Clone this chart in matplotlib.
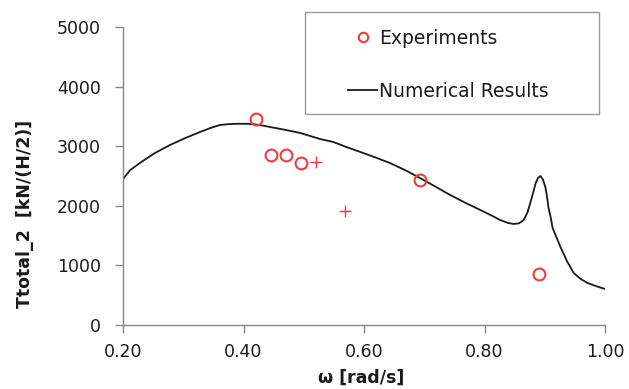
import matplotlib
matplotlib.use("Agg")
import matplotlib.pyplot as plt
from matplotlib.patches import Rectangle

plt.rcParams['font.family'] = ['DejaVu Sans']

# Numerical results curve
num_w = [0.200, 0.212, 0.228, 0.252, 0.278, 0.303, 0.328, 0.345, 0.361, 0.375,
         0.389, 0.403, 0.416, 0.430, 0.444, 0.469, 0.494, 0.527,
         0.549, 0.571, 0.594, 0.618, 0.643, 0.668, 0.693, 0.718, 0.743, 0.768,
         0.793, 0.810, 0.826, 0.838, 0.848, 0.857, 0.865, 0.871, 0.876,
         0.881, 0.885, 0.889, 0.893, 0.897, 0.901, 0.904, 0.906, 0.910, 0.913,
         0.920, 0.926, 0.937, 0.948, 0.960, 0.971, 0.986, 1.000]
num_T = [2450, 2600, 2718, 2880, 3020, 3135, 3239, 3305, 3356, 3370,
         3376, 3376, 3370, 3350, 3322, 3275, 3222, 3121,
         3071, 2985, 2903, 2815, 2718, 2600, 2466, 2325, 2181, 2052,
         1930, 1846, 1762, 1715, 1695, 1705, 1762, 1880, 2047,
         2230, 2383, 2470, 2500, 2440, 2316, 2140, 1980, 1800, 1628,
         1460, 1309, 1070, 873, 770, 705, 650, 604]

# Experiments (circles)
exp_w = [0.421, 0.446, 0.470, 0.495, 0.693, 0.891]
exp_T = [3456, 2852, 2860, 2718, 2433, 856]

# Experiments (plus markers)
plus_w = [0.520, 0.569]
plus_T = [2735, 1913]

xticks = [0.2, 0.4, 0.6, 0.8, 1.0]
xticklabels = ["0.20", "0.40", "0.60", "0.80", "1.00"]
yticks = [0, 1000, 2000, 3000, 4000, 5000]

fig = plt.figure(figsize=(6.29, 3.89), dpi=100)
ax = fig.add_axes([123/629, 1-325/389, (605-123)/629, (325-27)/389])

red = '#f03c3c'
ax.plot(num_w, num_T, color='#1a1a1a', lw=1.3, label='Numerical Results', zorder=2)
ax.plot(exp_w, exp_T, linestyle='none', marker='o', markersize=8.5,
        markerfacecolor='none', markeredgecolor=red, markeredgewidth=1.5,
        label='Experiments', zorder=3)
ax.plot(plus_w, plus_T, linestyle='none', marker='+', markersize=8,
        markeredgecolor=red, markeredgewidth=1.0, zorder=3)

ax.set_xlim(0.2, 1.0)
ax.set_ylim(0, 5000)
ax.set_xticks(xticks)
ax.set_xticklabels(xticklabels)
ax.set_yticks(yticks)

for s in ['top', 'right']:
    ax.spines[s].set_visible(False)
for s in ['left', 'bottom']:
    ax.spines[s].set_color('#888888')
    ax.spines[s].set_linewidth(1.0)
ax.tick_params(axis='both', direction='out', length=6, width=1.0,
               color='#888888', labelsize=12.5, labelcolor='#1a1a1a')
ax.tick_params(axis='y', pad=10)
ax.tick_params(axis='x', pad=7)

ax.set_xlabel('ω [rad/s]', fontsize=12.5, fontweight='bold', color='#1a1a1a')
ax.set_ylabel('Ttotal_2  [kN/(H/2)]', fontsize=12.5, fontweight='bold', color='#1a1a1a')
ax.xaxis.set_label_coords((361-123)/482, (325-378)/298)
ax.xaxis.label.set_va('center')
ax.yaxis.set_label_coords((25-123)/482, (325-214)/298)
ax.yaxis.label.set_va('center')

# legend box
fig.patches.append(Rectangle((305/629, 1-114/389), (599-305)/629, (114-12)/389,
                             transform=fig.transFigure, facecolor='white',
                             edgecolor='#999999', lw=1.0, zorder=0))
h, l = ax.get_legend_handles_labels()
leg = fig.legend([h[1], h[0]], [l[1], l[0]], loc='upper left',
                 bbox_to_anchor=(348/629, 1-29/389), frameon=False,
                 fontsize=13.5, handlelength=1.55, handletextpad=0.1,
                 labelspacing=1.8, borderpad=0, borderaxespad=0,
                 markerscale=0.8)
for t in leg.get_texts():
    t.set_color('#1a1a1a')

fig.savefig('out.png', dpi=100)
